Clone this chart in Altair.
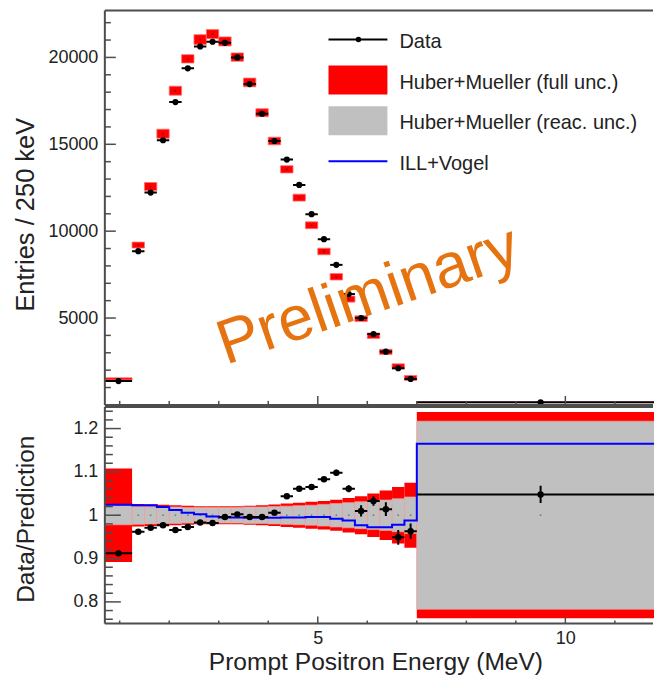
import altair as alt
import pandas as pd

# ---------------- data ----------------
bin_lo = [0.7, 1.25, 1.5, 1.75, 2.0, 2.25, 2.5, 2.75, 3.0, 3.25, 3.5, 3.75, 4.0,
          4.25, 4.5, 4.75, 5.0, 5.25, 5.5, 5.75, 6.0, 6.25, 6.5, 6.75, 7.0]
bin_hi = [1.25, 1.5, 1.75, 2.0, 2.25, 2.5, 2.75, 3.0, 3.25, 3.5, 3.75, 4.0, 4.25,
          4.5, 4.75, 5.0, 5.25, 5.5, 5.75, 6.0, 6.25, 6.5, 6.75, 7.0, 12.0]
bin_center = [0.975, 1.375, 1.625, 1.875, 2.125, 2.375, 2.625, 2.875, 3.125, 3.375,
              3.625, 3.875, 4.125, 4.375, 4.625, 4.875, 5.125, 5.375, 5.625, 5.875,
              6.125, 6.375, 6.625, 6.875, 9.5]

data_entries = [1370, 8850, 12220, 15230, 17430, 19370, 20630, 20900, 20840, 20000,
                18465, 16760, 15190, 14120, 12660, 10980, 9540, 8060, 6380, 5000,
                4080, 3065, 2108, 1494, 150]
pred_entries = [1500, 9200, 12570, 15610, 18085, 19920, 21030, 21340, 20920, 20020,
                18560, 16820, 15190, 13560, 11930, 10340, 8830, 7375, 6090, 4960,
                3980, 3050, 2220, 1550, 143]
pred_entries_err = [60, 170, 230, 260, 260, 240, 280, 260, 260, 240, 250, 230, 220,
                    210, 200, 195, 190, 185, 175, 165, 160, 150, 145, 140, 20]

ratio_data = [0.912, 0.962, 0.971, 0.977, 0.966, 0.973, 0.983, 0.982, 0.996, 1.002,
              0.996, 0.996, 1.006, 1.044, 1.061, 1.065, 1.083, 1.098, 1.061, 1.010,
              1.033, 1.014, 0.949, 0.963, 1.048]
ratio_data_err = [0.006, 0.004, 0.004, 0.004, 0.004, 0.004, 0.004, 0.004, 0.004, 0.004,
                  0.004, 0.005, 0.005, 0.005, 0.005, 0.006, 0.006, 0.007, 0.008, 0.013,
                  0.011, 0.016, 0.017, 0.018, 0.020]
ratio_ill_vogel = [1.024, 1.023, 1.023, 1.019, 1.012, 1.006, 1.002, 0.997, 0.995, 0.995,
                   0.994, 0.994, 0.994, 0.995, 0.995, 0.996, 0.996, 0.992, 0.988, 0.977,
                   0.972, 0.972, 0.978, 0.988, 1.165]
unc_full = [0.108, 0.026, 0.025, 0.024, 0.023, 0.022, 0.021, 0.021, 0.021, 0.021,
            0.022, 0.023, 0.025, 0.027, 0.029, 0.031, 0.033, 0.036, 0.040, 0.044,
            0.050, 0.057, 0.065, 0.075, 0.238]
unc_reac = [0.022, 0.021, 0.020, 0.019, 0.019, 0.018, 0.018, 0.018, 0.018, 0.018,
            0.019, 0.019, 0.020, 0.021, 0.022, 0.023, 0.025, 0.027, 0.029, 0.031,
            0.033, 0.035, 0.038, 0.042, 0.217]

top_y_labels = [5000, 10000, 15000, 20000]
top_y_major = [0, 5000, 10000, 15000, 20000]
top_y_minor = [1000, 2000, 3000, 4000, 6000, 7000, 8000, 9000, 11000, 12000, 13000,
               14000, 16000, 17000, 18000, 19000, 21000, 22000]
bot_y_major = [0.8, 0.9, 1.0, 1.1, 1.2]
bot_y_minor = [0.76, 0.78, 0.82, 0.84, 0.86, 0.88, 0.92, 0.94, 0.96, 0.98, 1.02, 1.04,
               1.06, 1.08, 1.12, 1.14, 1.16, 1.18, 1.22, 1.24]
x_major = [5, 10]
x_minor = [1, 2, 3, 4, 6, 7, 8, 9, 11]

legend_labels = ["Data", "Huber+Mueller (full unc.)", "Huber+Mueller (reac. unc.)", "ILL+Vogel"]

# ---------------- frames ----------------
df = pd.DataFrame({
    "lo": bin_lo, "hi": bin_hi, "c": bin_center,
    "data": data_entries, "pred": pred_entries,
    "pred_lo": [p - e for p, e in zip(pred_entries, pred_entries_err)],
    "pred_hi": [p + e for p, e in zip(pred_entries, pred_entries_err)],
    "r": ratio_data,
    "r_lo": [r - e for r, e in zip(ratio_data, ratio_data_err)],
    "r_hi": [r + e for r, e in zip(ratio_data, ratio_data_err)],
    "full_lo": [1 - u for u in unc_full], "full_hi": [1 + u for u in unc_full],
    "reac_lo": [1 - u for u in unc_reac], "reac_hi": [1 + u for u in unc_reac],
    "one": [1.0] * len(bin_lo),
})
step_df = pd.DataFrame({"e": bin_lo + [bin_hi[-1]],
                        "v": ratio_ill_vogel + [ratio_ill_vogel[-1]]})

FONT = "Liberation Sans"
W = 550
H_TOP = 395
H_BOT = 217
TICK = "#4d4d4d"
FRAME = "#4d4d4d"

xs = alt.Scale(domain=[0.7, 11.79], nice=False, zero=False)
ys_top = alt.Scale(domain=[0, 22700], nice=False, zero=False)
ys_bot = alt.Scale(domain=[0.75, 1.25], nice=False, zero=False)

yax_top = alt.Axis(values=top_y_labels, format="d", title="Entries / 250 keV",
                   labelPadding=7, titleX=-71, titleY=204, titleAngle=270,
                   titleFontSize=25.5,
                   titleAlign="center", titleBaseline="alphabetic")
yax_bot = alt.Axis(values=bot_y_major, format="~g", title="Data/Prediction",
                   labelPadding=7, titleX=-71, titleY=112, titleAngle=270,
                   titleFontSize=24.5,
                   titleAlign="center", titleBaseline="alphabetic")
xax_bot = alt.Axis(values=x_major, format="d", title="Prompt Positron Energy (MeV)",
                   labelPadding=6, titleX=271, titleY=46, titleAlign="center",
                   titleFontSize=24.6, titleBaseline="alphabetic")

def X(f, ax=None):
    return alt.X(f, type="quantitative", scale=xs, axis=ax)

base = alt.Chart(df)
one = alt.Chart(pd.DataFrame({"k": [0]}))


def frame(h):
    """left, top and bottom border of a pad (the right one is off-page)"""
    return [
        one.mark_rule(color=FRAME, strokeWidth=2).encode(
            x=alt.value(0), y=alt.value(0), y2=alt.value(h)),
        one.mark_rule(color=FRAME, strokeWidth=2).encode(
            x=alt.value(0), x2=alt.value(W - 1), y=alt.value(0)),
        one.mark_rule(color=FRAME, strokeWidth=2).encode(
            x=alt.value(0), x2=alt.value(W - 1), y=alt.value(h)),
    ]

# ---------------- top panel ----------------
Yt = lambda f: alt.Y(f, type="quantitative", scale=ys_top, axis=yax_top)

t_red = base.mark_rect(color="#ff0000", stroke="#ff7070", strokeWidth=0.8, clip=True).encode(
    x=X("lo"), x2="hi", y=Yt("pred_lo"), y2="pred_hi")
t_dot = base.mark_circle(size=3, color="#700000", opacity=0.8, clip=True).encode(
    x=X("c"), y=Yt("pred"))
t_hbar = base.mark_rule(color="black", strokeWidth=2, clip=True).encode(
    x=X("lo"), x2="hi", y=Yt("data"))
t_pt = base.mark_circle(size=38, color="black", opacity=1, clip=True).encode(
    x=X("c"), y=Yt("data"))

tyM = alt.Chart(pd.DataFrame({"v": top_y_major})).mark_rule(color=TICK, strokeWidth=1.5).encode(
    y=Yt("v"), x=alt.value(0), x2=alt.value(11))
tym = alt.Chart(pd.DataFrame({"v": top_y_minor})).mark_rule(color=TICK, strokeWidth=1.5).encode(
    y=Yt("v"), x=alt.value(0), x2=alt.value(6))
txM = alt.Chart(pd.DataFrame({"v": x_major})).mark_rule(color=TICK, strokeWidth=1.5).encode(
    x=X("v"), y=alt.value(H_TOP), y2=alt.value(H_TOP - 9))
txm = alt.Chart(pd.DataFrame({"v": x_minor})).mark_rule(color=TICK, strokeWidth=1.5).encode(
    x=X("v"), y=alt.value(H_TOP), y2=alt.value(H_TOP - 4))

# legend (drawn inside the frame, like ROOT's TLegend)
lg_line = one.mark_rule(color="black", strokeWidth=2).encode(
    x=alt.value(224), x2=alt.value(283), y=alt.value(29))
lg_pt = one.mark_circle(size=30, color="black", opacity=1).encode(
    x=alt.value(254), y=alt.value(29))
lg_red = one.mark_rect(color="#ff0000").encode(
    x=alt.value(224), x2=alt.value(283), y=alt.value(55), y2=alt.value(84))
lg_gray = one.mark_rect(color="#c0c0c0").encode(
    x=alt.value(224), x2=alt.value(283), y=alt.value(96), y2=alt.value(125))
lg_blue = one.mark_rule(color="#0000ff", strokeWidth=2).encode(
    x=alt.value(224), x2=alt.value(283), y=alt.value(151))
lg_txt = [
    one.mark_text(text=legend_labels[i], font=FONT, fontSize=20, color="#222",
                  align="left", baseline="alphabetic").encode(
        x=alt.value(295), y=alt.value(yy))
    for i, yy in enumerate([37.5, 79, 119, 159.5])
]
prelim = one.mark_text(text="Preliminary", font=FONT, fontSize=63, color="#e5730f",
                       align="left", baseline="alphabetic", angle=341).encode(
    x=alt.value(121), y=alt.value(355))

top = alt.layer(t_red, t_dot, t_hbar, t_pt, tyM, tym, txM, txm,
                lg_line, lg_pt, lg_red, lg_gray, lg_blue, *lg_txt, prelim,
                *frame(H_TOP)).properties(width=W, height=H_TOP)

# ---------------- bottom panel ----------------
Yb = lambda f: alt.Y(f, type="quantitative", scale=ys_bot, axis=yax_bot)
Xb = lambda f: X(f, xax_bot)

b_red = base.mark_rect(color="#ff0000", clip=True).encode(
    x=Xb("lo"), x2="hi", y=Yb("full_lo"), y2="full_hi")
b_gray = base.mark_rect(color="#c0c0c0", stroke="#f2a0a0", strokeWidth=0.7, clip=True).encode(
    x=Xb("lo"), x2="hi", y=Yb("reac_lo"), y2="reac_hi")
b_dot = base.mark_circle(size=3, color="#666", opacity=0.8, clip=True).encode(
    x=Xb("c"), y=Yb("one"))
b_blue = alt.Chart(step_df).mark_line(color="#0000ff", strokeWidth=2, interpolate="step-after",
                                      clip=True).encode(
    x=Xb("e"), y=Yb("v"))
b_hbar = base.mark_rule(color="black", strokeWidth=2, clip=True).encode(
    x=Xb("lo"), x2="hi", y=Yb("r"))
b_vbar = base.mark_rule(color="black", strokeWidth=2, clip=True).encode(
    x=Xb("c"), y=Yb("r_lo"), y2="r_hi")
b_pt = base.mark_circle(size=42, color="black", opacity=1, clip=True).encode(
    x=Xb("c"), y=Yb("r"))

byM = alt.Chart(pd.DataFrame({"v": bot_y_major})).mark_rule(color=TICK, strokeWidth=1.5).encode(
    y=Yb("v"), x=alt.value(0), x2=alt.value(16))
bym = alt.Chart(pd.DataFrame({"v": bot_y_minor})).mark_rule(color=TICK, strokeWidth=1.5).encode(
    y=Yb("v"), x=alt.value(0), x2=alt.value(8))
bxM = alt.Chart(pd.DataFrame({"v": x_major})).mark_rule(color=TICK, strokeWidth=1.5).encode(
    x=Xb("v"), y=alt.value(H_BOT), y2=alt.value(H_BOT - 7))
bxm = alt.Chart(pd.DataFrame({"v": x_minor})).mark_rule(color=TICK, strokeWidth=1.5).encode(
    x=Xb("v"), y=alt.value(H_BOT), y2=alt.value(H_BOT - 3))

bottom = alt.layer(b_red, b_gray, b_dot, b_blue, b_hbar, b_vbar, b_pt,
                   byM, bym, bxM, bxm, *frame(H_BOT)).properties(width=W, height=H_BOT)

chart = alt.vconcat(top, bottom, spacing=0).resolve_scale(
    y="independent"
).properties(
    padding={"left": 6, "top": 1, "right": 0, "bottom": 0}
).configure_view(
    stroke="transparent", strokeWidth=0
).configure_axis(
    grid=False, ticks=False, domain=False,
    labelFont=FONT, titleFont=FONT, labelFontSize=18, titleFontSize=24,
    titleFontWeight="normal", labelColor="#222", titleColor="#222"
)

chart.save("out.html", embed_options={"renderer": "svg", "actions": False})
